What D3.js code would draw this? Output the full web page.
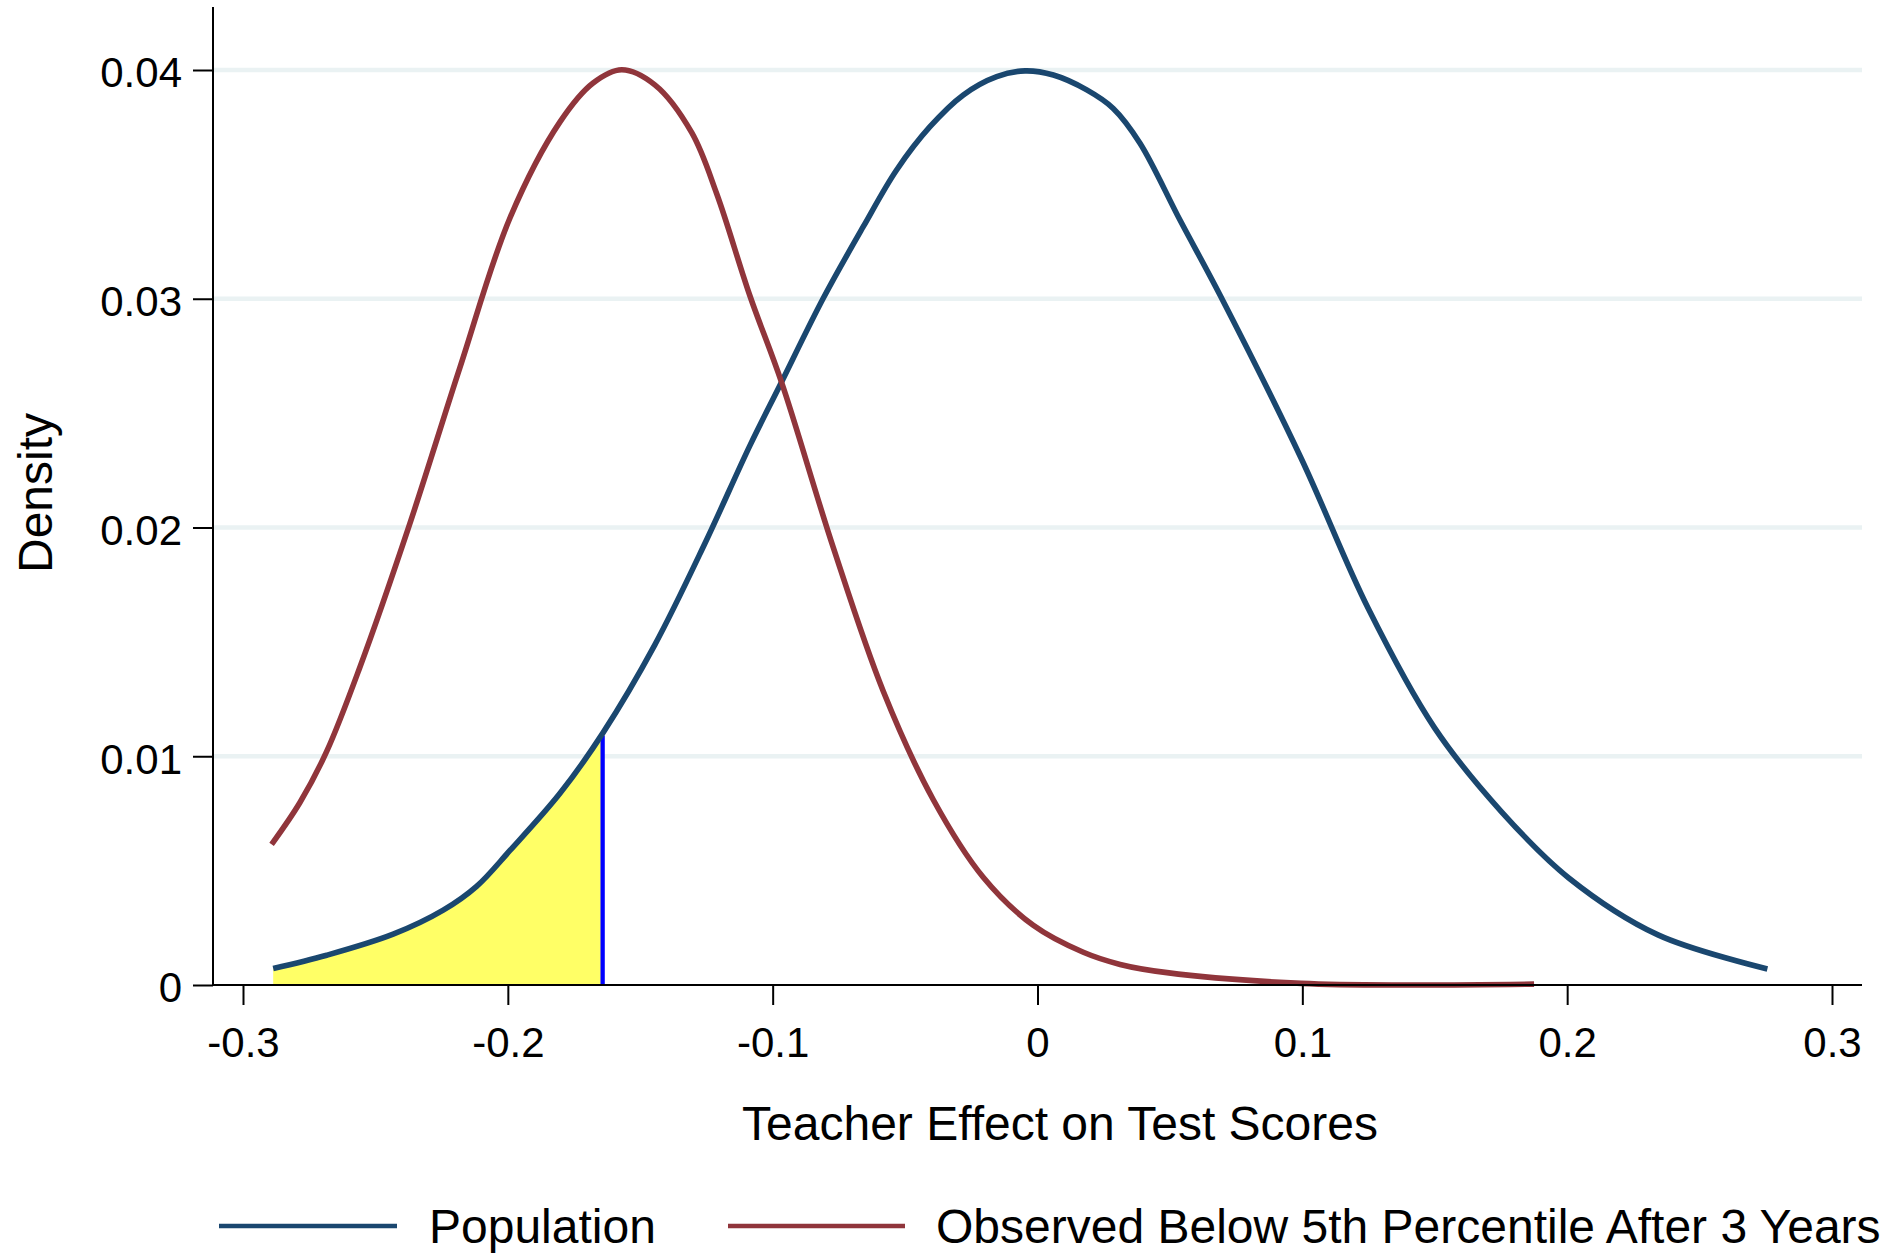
<!DOCTYPE html>
<html>
<head>
<meta charset="utf-8">
<script src="https://cdn.jsdelivr.net/npm/d3@7"></script>
<style>
  html, body { margin: 0; padding: 0; background: #fff; }
  svg { display: block; }
  text { font-family: "Liberation Sans", Arial, Helvetica, sans-serif; fill: #000; }
</style>
</head>
<body>
<svg id="chart" width="1884" height="1258"></svg>
<script>
// ---- data ----
const xTicks = [-0.3, -0.2, -0.1, 0, 0.1, 0.2, 0.3];
const yTicks = [0, 0.01, 0.02, 0.03, 0.04];
const yGrid = [0.01, 0.02, 0.03, 0.04];

const populationX = [-0.2886, -0.2684, -0.2433, -0.2244, -0.2118, -0.1992, -0.1803, -0.1642, -0.1445, -0.1256, -0.1086, -0.0972, -0.0809, -0.0658, -0.0532, -0.0406, -0.0280, -0.0154, -0.0047, 0.0060, 0.0186, 0.0286, 0.0387, 0.0538, 0.0691, 0.0995, 0.1248, 0.1500, 0.1753, 0.2006, 0.2343, 0.2756];
const populationD = [0.00072, 0.00130, 0.00222, 0.00327, 0.00431, 0.00588, 0.00838, 0.01100, 0.01487, 0.01930, 0.02358, 0.02623, 0.03002, 0.03315, 0.03563, 0.03752, 0.03891, 0.03971, 0.03996, 0.03978, 0.03913, 0.03832, 0.03680, 0.03344, 0.03012, 0.02304, 0.01648, 0.01123, 0.00756, 0.00468, 0.00219, 0.00070];

const observedX = [-0.2892, -0.2785, -0.2684, -0.2559, -0.2370, -0.2181, -0.1992, -0.1803, -0.1678, -0.1570, -0.1445, -0.1306, -0.1211, -0.1086, -0.0966, -0.0771, -0.0582, -0.0394, -0.0205, -0.0016, 0.0173, 0.0312, 0.0489, 0.0995, 0.1416, 0.1875];
const observedD = [0.00615, 0.00798, 0.01021, 0.01388, 0.02017, 0.02699, 0.03353, 0.03773, 0.03943, 0.04001, 0.03935, 0.03727, 0.03458, 0.03013, 0.02633, 0.01912, 0.01283, 0.00811, 0.00471, 0.00261, 0.00143, 0.00090, 0.00054, 0.00007, 0.00000, 0.00004];

const cutoffX = -0.1642;
const cutoffD = 0.0109;

const seriesNames = ["Population", "Observed Below 5th Percentile After 3 Years"];
const xTitle = "Teacher Effect on Test Scores";
const yTitle = "Density";

// ---- drawing ----
const svg = d3.select("#chart");
const navy = "#1a476f", maroon = "#90353b";

const x = d3.scaleLinear().domain([-0.3, 0.3]).range([243, 1832]);
const y = d3.scaleLinear().domain([0, 0.04]).range([985, 70]);
const plotLeft = 213, plotRight = 1862, plotTop = 7;

const pop = populationX.map((v, i) => [v, populationD[i]]);
const obs = observedX.map((v, i) => [v, observedD[i]]);

// gridlines
svg.append("g").selectAll("line").data(yGrid).join("line")
  .attr("x1", plotLeft).attr("x2", plotRight)
  .attr("y1", d => y(d)).attr("y2", d => y(d))
  .attr("stroke", "#eaf2f3").attr("stroke-width", 4.5);

// shaded area
const shade = pop.filter(d => d[0] <= cutoffX);
svg.append("path")
  .datum(shade)
  .attr("fill", "#ffff66")
  .attr("d", d3.area().x(d => x(d[0])).y0(y(0)).y1(d => y(d[1])).curve(d3.curveCatmullRom));

// cutoff line
svg.append("line")
  .attr("x1", x(cutoffX)).attr("x2", x(cutoffX))
  .attr("y1", y(0)).attr("y2", y(cutoffD))
  .attr("stroke", "#0000ff").attr("stroke-width", 4.3);

const line = d3.line().x(d => x(d[0])).y(d => y(d[1])).curve(d3.curveCatmullRom);
svg.append("path").datum(pop).attr("fill", "none").attr("stroke", navy).attr("stroke-width", 5.6).attr("d", line);
svg.append("path").datum(obs).attr("fill", "none").attr("stroke", maroon).attr("stroke-width", 5.6).attr("d", line);

// axis lines
svg.append("line").attr("x1", plotLeft).attr("x2", plotLeft).attr("y1", plotTop).attr("y2", y(0))
  .attr("stroke", "#000").attr("stroke-width", 2);
svg.append("line").attr("x1", plotLeft).attr("x2", plotRight).attr("y1", y(0)).attr("y2", y(0))
  .attr("stroke", "#000").attr("stroke-width", 2);

const fmt = d => d === 0 ? "0" : String(d);

const xAxis = svg.append("g").attr("transform", `translate(0,${y(0)})`)
  .call(d3.axisBottom(x).tickValues(xTicks).tickFormat(fmt).tickSize(20).tickPadding(22).tickSizeOuter(0));
xAxis.select(".domain").remove();
xAxis.selectAll(".tick line").attr("stroke", "#000").attr("stroke-width", 2);
xAxis.selectAll(".tick text").attr("font-size", 42).attr("fill", "#000")
  .style("font-family", '"Liberation Sans", Arial, sans-serif');

const yAxis = svg.append("g").attr("transform", `translate(${plotLeft},0)`)
  .call(d3.axisLeft(y).tickValues(yTicks).tickFormat(fmt).tickSize(20).tickPadding(11).tickSizeOuter(0));
yAxis.select(".domain").remove();
yAxis.selectAll(".tick line").attr("stroke", "#000").attr("stroke-width", 2);
yAxis.selectAll(".tick text").attr("font-size", 42).attr("fill", "#000").attr("dy", "0.4em")
  .style("font-family", '"Liberation Sans", Arial, sans-serif');

// titles
svg.append("text").attr("x", 1060).attr("y", 1140).attr("text-anchor", "middle")
  .attr("font-size", 48).text(xTitle);
svg.append("text").attr("transform", "translate(52,493) rotate(-90)").attr("text-anchor", "middle")
  .attr("font-size", 48).text(yTitle);

// legend
const legend = [
  { name: seriesNames[0], color: navy, x1: 219, x2: 397, tx: 429 },
  { name: seriesNames[1], color: maroon, x1: 728, x2: 905, tx: 936 }
];
const lg = svg.append("g");
legend.forEach(l => {
  lg.append("line").attr("x1", l.x1).attr("x2", l.x2).attr("y1", 1226).attr("y2", 1226)
    .attr("stroke", l.color).attr("stroke-width", 4.5);
  lg.append("text").attr("x", l.tx).attr("y", 1243).attr("font-size", 48).text(l.name);
});
</script>
</body>
</html>
